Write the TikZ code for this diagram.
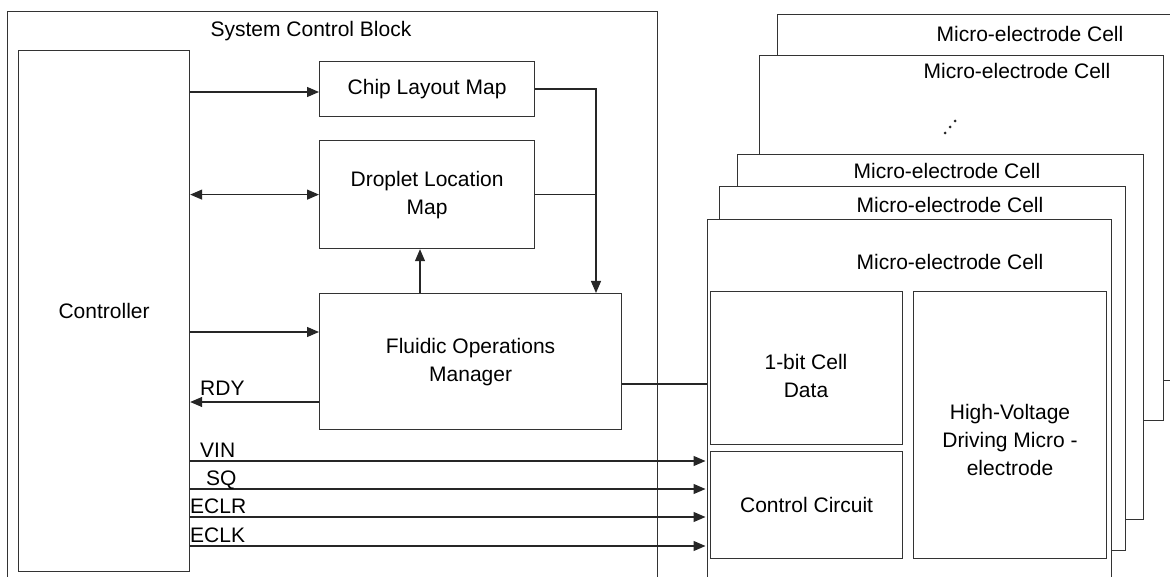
\documentclass[tikz,border=0pt]{standalone}
\usepackage{fontspec}
\setmainfont{Liberation Sans}
\usetikzlibrary{arrows.meta}

\tikzset{
  blockbox/.style={draw=black!80, line width=1.2pt, fill=white, rectangle, inner sep=0pt, align=center, anchor=north west},
  sig/.style={draw=black!85, line width=1.2pt},
  sigtip/.tip={Triangle[length=12pt,width=10pt]},
  sigarrow/.style={sig, -sigtip},
  txt/.style={inner sep=0pt, align=center}
}

\begin{document}
\begin{tikzpicture}[x=1pt,y=1pt,yscale=-1,xscale=1,every node/.style={font=\fontsize{21}{28}\selectfont}]
\useasboundingbox (0,0) rectangle (1170,577);

%Shape: Rectangle (open at the page bottom)
\node [blockbox, minimum width=650pt, minimum height=620pt] (scb) at (7,11) {};
% Text Node
\node [txt] (scbtxt) at (311,31) {System Control Block};

%Shape: Rectangle
\node [blockbox, minimum width=171pt, minimum height=521pt] (ctrl) at (18,50) {Controller};
%Shape: Rectangle
\node [blockbox, minimum width=215pt, minimum height=55pt] (chip) at (319,61) {Chip Layout Map};
%Shape: Rectangle
\node [blockbox, minimum width=215pt, minimum height=108pt] (drop) at (319,140) {Droplet Location\\Map};
%Shape: Rectangle
\node [blockbox, minimum width=302pt, minimum height=136pt] (fom) at (319,293) {Fluidic Operations\\Manager};

%Shape: Rectangle (stack of cells, back to front)
\node [blockbox, minimum width=450pt, minimum height=366pt] (cellA) at (777,14) {};
\node [blockbox, minimum width=404pt, minimum height=365pt] (cellB) at (759,55) {};
\node [blockbox, minimum width=406pt, minimum height=365pt] (cellC) at (737,154) {};
\node [blockbox, minimum width=406pt, minimum height=364pt] (cellD) at (719,186) {};
\node [blockbox, minimum width=404pt, minimum height=400pt] (cellE) at (707,219) {};

% Text Node
\node [txt] (cellAtxt) at (1030,34) {Micro-electrode Cell};
\node [txt] (cellBtxt) at (1017,71) {Micro-electrode Cell};
\node [txt] (cellCtxt) at (947,171) {Micro-electrode Cell};
\node [txt] (cellDtxt) at (950,205) {Micro-electrode Cell};
\node [txt] (cellEtxt) at (950,262) {Micro-electrode Cell};

%Dots
\foreach \i in {0,1,2}
  \fill [black!85] (945+5*\i,133-6*\i) circle (1.5pt);

%Shape: Rectangle
\node [blockbox, minimum width=192pt, minimum height=153pt] (bit) at (710,291) {};
\node [txt] (bittxt) at (806,376) {1-bit Cell\\Data};
%Shape: Rectangle
\node [blockbox, minimum width=192pt, minimum height=107pt] (ccirc) at (710,451) {Control Circuit};
%Shape: Rectangle
\node [blockbox, minimum width=193pt, minimum height=267pt] (hv) at (913,291) {};
\node [txt] (hvtxt) at (1010,440) {High-Voltage\\Driving Micro -\\electrode};

\coordinate (chipin) at (319,92);
\coordinate (fomtop) at (596,293);
\coordinate (fomup) at (420,293);
\coordinate (fomin) at (319,332);
\coordinate (rdyout) at (319,402);
\coordinate (cellin) at (707,384);

%Straight Lines
\draw [sigarrow] (ctrl.east |- chipin) -- (chipin);
\draw [sig, sigtip-sigtip] (ctrl.east |- drop.west) -- (drop.west);
\draw [sigarrow] (ctrl.east |- fomin) -- (fomin);
\draw [sigarrow] (rdyout) -- (ctrl.east |- rdyout);
% Text Node
\node [txt, anchor=base west] (rdytxt) at (200,395) {RDY};

%Straight Lines
\draw [sigarrow] (chip.east) -| (fomtop);
\draw [sig] (drop.east) -- (drop.east -| fomtop);
\draw [sigarrow] (fomup) -- (fomup |- drop.south);
\draw [sig] (fom.east |- cellin) -- (cellin);

%Straight Lines + Text Node
\foreach \sname/\sy/\sx in {VIN/461/200,SQ/489/206,ECLR/517/190,ECLK/546/190}{
  \coordinate (at\sname) at (0,\sy);
  \draw [sigarrow, shorten >=1.5pt] (ctrl.east |- at\sname) -- (cellE.west |- at\sname);
  \node [txt, anchor=base west] (\sname) at (\sx,\sy-4) {\sname};
}

\end{tikzpicture}
\end{document}
